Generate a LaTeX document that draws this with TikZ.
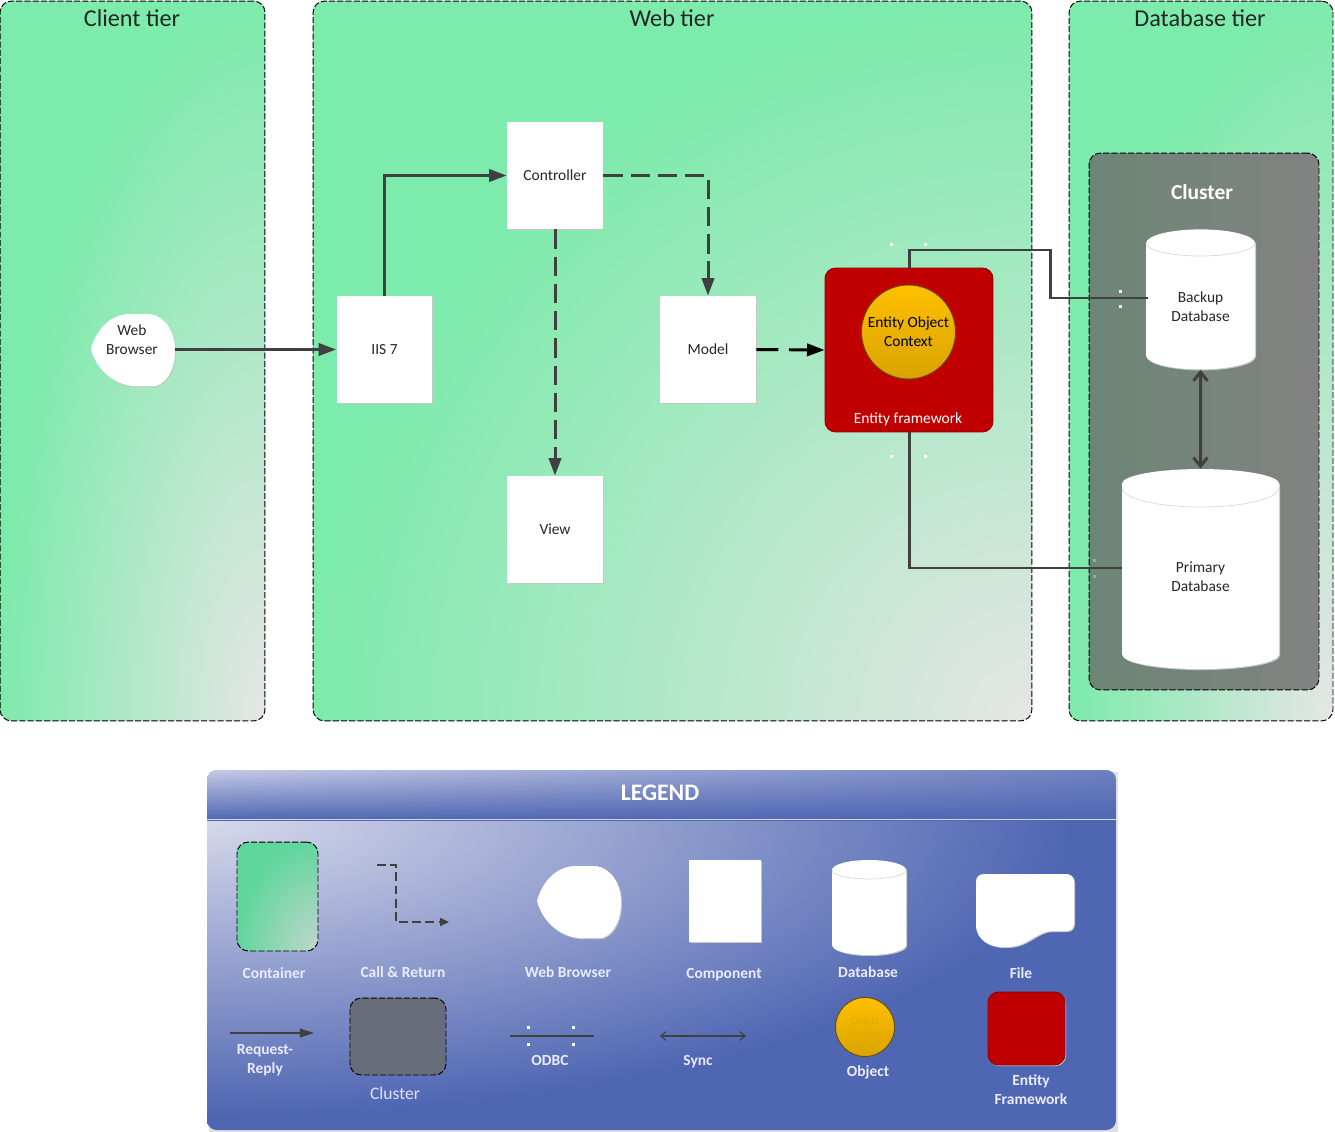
\documentclass[tikz,border=0pt]{standalone}
\usepackage{fontspec}
\setmainfont{Carlito}
\usetikzlibrary{arrows.meta,shapes.geometric,shadows}

\definecolor{linegray}{HTML}{404040}
\definecolor{efred}{HTML}{C00000}
\definecolor{legendblue}{HTML}{4F66B2}
\definecolor{objyellow}{HTML}{FFC000}
\definecolor{clusterleft}{HTML}{6C8676}
\definecolor{clusterright}{HTML}{828282}
\definecolor{clustergray}{HTML}{686D7C}

\pgfdeclarefunctionalshading{tiershade}{\pgfpointorigin}{\pgfpoint{100bp}{100bp}}{}{
  25 sub 50 div exch 25 sub 50 div 1 exch sub dup mul exch dup mul add sqrt 1 exch sub
  dup 0 lt {pop 0} if
  dup .412 mul .49 add exch dup -.02 mul .92 add exch .23 mul .67 add
}
\pgfdeclarefunctionalshading{containershade}{\pgfpointorigin}{\pgfpoint{100bp}{100bp}}{}{
  25 sub 50 div exch 25 sub 50 div 1 exch sub dup mul exch dup mul add sqrt 1 exch sub
  dup 0 lt {pop 0} if
  dup .38 mul .38 add exch dup 0 mul .84 add exch .2 mul .61 add
}
\pgfdeclarefunctionalshading{legendbody}{\pgfpointorigin}{\pgfpoint{100bp}{100bp}}{}{
  25 sub 50 div 1 exch sub exch 25 sub 50 div dup mul exch dup mul add sqrt .95 div 1 exch sub
  dup 0 lt {pop 0} if
  dup .53 mul .31 add exch dup .45 mul .40 add exch .22 mul .70 add
}
\pgfdeclarefunctionalshading{legendhead}{\pgfpointorigin}{\pgfpoint{100bp}{100bp}}{}{
  25 sub 50 div exch 25 sub 50 div .75 mul 1 exch sub mul
  dup .46 mul .31 add exch dup .39 mul .40 add exch .2 mul .70 add
}

\newcommand{\labelsize}{\fontsize{8.8}{10.8}\selectfont}
\newcommand{\browserblob}[2]{
  \fill[black!22,shift={(#1+1,#2+1)}] (91,349) .. controls (96,330) and (110,314) .. (130,314)
    -- (150,314) .. controls (165,316) and (175,332) .. (175,350)
    .. controls (175,368) and (168,382) .. (156,386) -- (133,386)
    .. controls (112,384) and (96,368) .. (91,349) -- cycle;
  \fill[white,shift={(#1,#2)}] (91,349) .. controls (96,330) and (110,314) .. (130,314)
    -- (150,314) .. controls (165,316) and (175,332) .. (175,350)
    .. controls (175,368) and (168,382) .. (156,386) -- (133,386)
    .. controls (112,384) and (96,368) .. (91,349) -- cycle;
}

\tikzset{
  softshadow/.style={general shadow={fill=black!22,shadow xshift=.6pt,shadow yshift=-.6pt}},
  tierbox/.style={shade,shading=tiershade,draw=black,line width=.55pt,dash pattern=on 3.5pt off 1.2pt,rounded corners=6.5pt,inner sep=0pt},
  clusterbox/.style={draw=black,line width=.55pt,dash pattern=on 3.5pt off 1.2pt,rounded corners=6.5pt,inner sep=0pt},
  compbox/.style={fill=white,softshadow,inner sep=0pt,align=center,font=\labelsize,text=black!85},
  dbbox/.style={cylinder,shape border rotate=90,fill=white,softshadow,inner sep=0pt,align=center,font=\labelsize,text=black!85},
  efbox/.style={fill=efred,draw=efred!75!black,line width=.5pt,rounded corners=6pt,inner sep=0pt},
  objcircle/.style={circle,inner sep=0pt,top color=objyellow,bottom color=objyellow!85!black,draw=objyellow!40!black,line width=.5pt,align=center,font=\labelsize},
  title/.style={font=\fontsize{13.8}{15}\selectfont,text=black!85},
  plaintext/.style={align=center,font=\labelsize,text=black!85},
  legendtext/.style={align=center,font=\labelsize\bfseries,text=white!92!blue},
  callline/.style={draw=linegray,line width=1.7pt,-{Triangle[length=10pt,width=7pt]}},
  callback/.style={callline,dash pattern=on 11pt off 4.5pt},
  dbline/.style={draw=linegray,line width=1.7pt},
  syncline/.style={draw=linegray,line width=1.7pt,{Straight Barb[length=5pt,width=8pt]}-{Straight Barb[length=5pt,width=8pt]}},
  rimline/.style={draw=black!15,line width=.4pt},
  thinline/.style={draw=linegray,line width=.6pt}
}

\begin{document}
\begin{tikzpicture}[x=0.02cm,y=-0.02cm]
  \useasboundingbox (0,0) rectangle (1335,1132);

  \node[tierbox,minimum width=5.3cm,minimum height=14.4cm] (clienttier) at (132.5,361) {};
  \node[tierbox,minimum width=14.38cm,minimum height=14.4cm] (webtier) at (672.5,361) {};
  \node[tierbox,minimum width=5.28cm,minimum height=14.4cm] (dbtier) at (1201,361) {};
  \node[title] (clienttitle) at (132,18) {Client tier};
  \node[title] (webtitle) at (672,18) {Web tier};
  \node[title] (dbtitle) at (1200,18) {Database tier};

  \node[clusterbox,left color=clusterleft,middle color=clusterleft!85!clusterright,right color=clusterright,minimum width=4.6cm,minimum height=10.74cm] (cluster) at (1204,421.5) {};
  \node[font=\fontsize{12.2}{14}\selectfont\bfseries,text=white] (clustertitle) at (1202,192) {Cluster};

  \browserblob{0}{0}
  \node[plaintext,minimum width=1.68cm] (browser) at (132,339.5) {Web\\Browser};
  \coordinate (browserout) at (175,349.5);

  \node[compbox,minimum width=1.92cm,minimum height=2.14cm] (iis) at (384.5,349.5) {IIS 7};
  \node[compbox,minimum width=1.92cm,minimum height=2.14cm] (controller) at (555,175.5) {Controller};
  \node[compbox,minimum width=1.92cm,minimum height=2.14cm] (model) at (708,349.5) {Model};
  \node[compbox,minimum width=1.92cm,minimum height=2.14cm] (view) at (555,529.5) {View};

  \node[efbox,minimum width=3.36cm,minimum height=3.28cm] (framework) at (909,350) {};
  \node[objcircle,minimum size=1.88cm] (context) at (908.5,332) {Entity Object\\Context};
  \node[font=\labelsize,text=white] (frameworklabel) at (908,419) {Entity framework};

  \node[dbbox,shape aspect=.477,minimum width=2.18cm,minimum height=2.8cm] (backupdb) at (1200.5,306.5) {Backup\\Database};
  \node[dbbox,shape aspect=.5,minimum width=3.14cm,minimum height=4cm] (primarydb) at (1200.5,576.5) {Primary\\Database};
  \draw[rimline] (1146,243) arc (180:0:54.5 and 13);
  \draw[rimline] (1122,488) arc (180:0:78.5 and 19);

  \coordinate (odbcturn) at (1050,250);
  \coordinate (backupin) at (1148,298);
  \coordinate (primaryin) at (1122,568);
  \draw[callline] (browserout) -- (iis.west);
  \draw[callline] (iis.north) |- (controller.west);
  \draw[callback] (controller.east) -| (model.north);
  \draw[callback] (controller.south) -- (view.north);
  \draw[callback,draw=black,dash pattern=on 12.5pt off 6pt] (model.east) -- (framework.west);
  \draw[dbline] (framework.north) |- (odbcturn) |- (backupin);
  \draw[dbline] (framework.south) |- (primaryin);
  \draw[syncline] (backupdb.south) -- (primarydb.north);

  \foreach \px/\py in {891/244,925/244,891/456,925/456,1120/291,1120/306}
    \fill[white] (\px-1.5,\py-1.5) rectangle (\px+1.5,\py+1.5);
  \foreach \px/\py in {1094/560,1094/576}
    \fill[white,opacity=.3] (\px-1.5,\py-1.5) rectangle (\px+1.5,\py+1.5);

  \fill[black!12] (209,772) rectangle (1118,1132);
  \begin{scope}
    \clip[rounded corners=5.5pt] (207,770) rectangle (1116,1130);
    \path[shade,shading=legendbody] (207,820) rectangle (1116,1130);
    \path[shade,shading=legendhead] (207,770) rectangle (1116,820);
  \end{scope}
  \draw[draw=white!75!legendblue,line width=.6pt] (207,819.5) -- (1116,819.5);
  \node[font=\fontsize{13.5}{15}\selectfont\bfseries,text=white] (legendtitle) at (660,793) {LEGEND};

  \node[clusterbox,shade,shading=containershade,minimum width=1.62cm,minimum height=2.18cm] (keycontainer) at (277.5,896.5) {};
  \coordinate (callstart) at (377,865);
  \coordinate (callturn) at (396,865);
  \coordinate (callend) at (449,922);
  \draw[thinline,dash pattern=on 5pt off 2.5pt,-{Triangle[length=5pt,width=4.5pt]}] (callstart) -- (callturn) |- (callend);
  \browserblob{446}{552}
  \node[compbox,minimum width=1.44cm,minimum height=1.64cm] (keycomponent) at (725,901) {};
  \fill[black!22,shift={(1,1)}] (832,870) arc (180:360:37 and 10) -- (906,945) arc (0:180:37 and 10) -- cycle;
  \fill[white] (832,870) arc (180:360:37 and 10) -- (906,945) arc (0:180:37 and 10) -- cycle;
  \draw[rimline] (832,870) arc (180:0:37 and 9);
  \fill[black!22,shift={(1,1)}] (984,874) -- (1066,874) .. controls (1071,874) and (1074,877) .. (1074,882) -- (1074,923) .. controls (1074,928) and (1071,931) .. (1066,931) -- (1055,931) .. controls (1035,930) and (1030,948) .. (1003,947) .. controls (990,947) and (976,940) .. (976,925) -- (976,882) .. controls (976,877) and (979,874) .. (984,874) -- cycle;
  \fill[white] (984,874) -- (1066,874) .. controls (1071,874) and (1074,877) .. (1074,882) -- (1074,923) .. controls (1074,928) and (1071,931) .. (1066,931) -- (1055,931) .. controls (1035,930) and (1030,948) .. (1003,947) .. controls (990,947) and (976,940) .. (976,925) -- (976,882) .. controls (976,877) and (979,874) .. (984,874) -- cycle;

  \node[legendtext] (containerlabel) at (274,973) {Container};
  \node[legendtext] (calllabel) at (403,972) {Call \& Return};
  \node[legendtext] (browserlabel) at (568,972) {Web Browser};
  \node[legendtext] (componentlabel) at (724,975) {Component};
  \node[legendtext] (databaselabel) at (868,972) {Database};
  \node[legendtext] (filelabel) at (1021,973) {File};

  \coordinate (requeststart) at (230,1033);
  \coordinate (requestend) at (314,1033);
  \draw[thinline,-{Triangle[length=8pt,width=5pt]}] (requeststart) -- (requestend);
  \node[legendtext] (requestlabel) at (265,1060) {Request-\\Reply};
  \node[clusterbox,fill=clustergray,minimum width=1.92cm,minimum height=1.54cm] (keycluster) at (398,1036.5) {};
  \node[font=\fontsize{10}{12}\selectfont,text=white!88!blue] (clusterlabel) at (395,1093) {Cluster};
  \coordinate (odbcstart) at (510,1036);
  \coordinate (odbcend) at (594,1036);
  \draw[thinline] (odbcstart) -- (odbcend);
  \foreach \px/\py in {528/1027,573/1027,528/1044,573/1044}
    \fill[white] (\px-1.5,\py-1.5) rectangle (\px+1.5,\py+1.5);
  \node[legendtext] (odbclabel) at (550,1060) {ODBC};
  \coordinate (syncstart) at (660,1036);
  \coordinate (syncend) at (746,1036);
  \draw[thinline,{Straight Barb[length=3pt,width=5pt]}-{Straight Barb[length=3pt,width=5pt]}] (syncstart) -- (syncend);
  \node[legendtext] (synclabel) at (698,1062) {Sync};
  \node[objcircle,minimum size=1.18cm,font=\fontsize{6}{7.5}\selectfont,text=objyellow!88!black] (keyobject) at (865,1027) {Object\\Context};
  \node[legendtext] (objectlabel) at (868,1072) {Object};
  \node[efbox,softshadow,minimum width=1.54cm,minimum height=1.46cm] (keyframework) at (1026.5,1028.5) {};
  \node[legendtext] (efkeylabel) at (1031,1090) {Entity\\Framework};
\end{tikzpicture}
\end{document}
